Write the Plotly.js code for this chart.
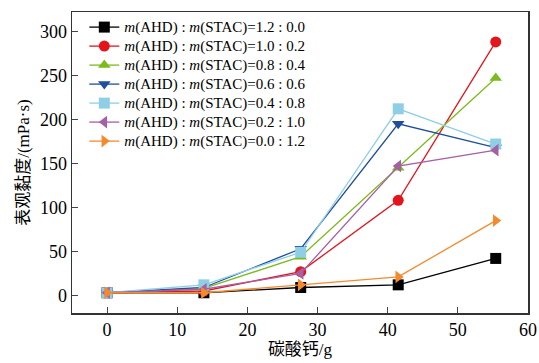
<!DOCTYPE html>
<html><head><meta charset="utf-8">
<script src="https://cdn.plot.ly/plotly-3.0.1.min.js"></script>
<style>html,body{margin:0;padding:0;background:#fff}#c{width:539px;height:363px}
#c .legend .legendtext{font-size:15px !important}
#c .legend .scrollbox, #c .legend g{clip-path:none !important}</style>
</head><body><div id="c"></div>
<script>
const mass = [0, 13.8, 27.6, 41.5, 55.4];
const labels = ["1.2 : 0.0","1.0 : 0.2","0.8 : 0.4","0.6 : 0.6","0.4 : 0.8","0.2 : 1.0","0.0 : 1.2"];
const s12_00 = [3, 3, 9, 12, 42];
const s10_02 = [3, 5, 27, 108, 288];
const s08_04 = [3, 8, 44, 145, 247];
const s06_06 = [3, 9, 53, 195, 168];
const s04_08 = [3, 12, 49, 212, 172];
const s02_10 = [3, 7, 25, 147, 165];
const s00_12 = [3, 3, 12, 21, 85];
const series = [s12_00, s10_02, s08_04, s06_06, s04_08, s02_10, s00_12];
const colors = ["#000000","#e3141c","#7dba1e","#1f4e9c","#8ecfe6","#a55fa5","#f58a2d"];
const symbols = ["square","circle","triangle-up","triangle-down","square","triangle-left","triangle-right"];
const traces = series.map((y,i)=>({
  x: mass, y: y, type:"scatter", mode:"lines+markers",
  name: "<i>m</i>(AHD) : <i>m</i>(STAC)=" + labels[i],
  line:{color:colors[i], width:1.3},
  marker:{symbol:symbols[i], color:colors[i], size:11}
}));
const fam = "Liberation Serif, Noto Sans CJK SC";
const layout = {
  width:539, height:363,
  margin:{l:72, r:11, t:12, b:50},
  paper_bgcolor:"#fff", plot_bgcolor:"#fff",
  font: {family:fam, size:18, color:"#000"},
  showlegend:true,
  legend:{x:0.027, y:0.998, xanchor:"left", yanchor:"top", bgcolor:"rgba(0,0,0,0)", font:{family:fam, size:11.7, color:"#000"}, tracegroupgap:0, itemwidth:30},
  xaxis:{range:[-5,60], tickvals:[0,10,20,30,40,50,60], ticks:"inside", ticklen:6, showline:true, mirror:true, linecolor:"#333", linewidth:1.5, showgrid:false, zeroline:false,
    tickfont:{family:fam, size:18, color:"#000"},
    title:{text:"碳酸钙/g", font:{family:fam, size:17, color:"#000"}, standoff:0}},
  yaxis:{range:[-20,322], tickvals:[0,50,100,150,200,250,300], ticks:"inside", ticklen:6, showline:true, mirror:true, linecolor:"#333", linewidth:1.5, showgrid:false, zeroline:false,
    tickfont:{family:fam, size:18, color:"#000"},
    title:{text:"表观黏度/(mPa·s)", font:{family:fam, size:17, color:"#000"}, standoff:6}}
};
Plotly.newPlot("c", traces, layout, {staticPlot:true, displayModeBar:false});
</script></body></html>
